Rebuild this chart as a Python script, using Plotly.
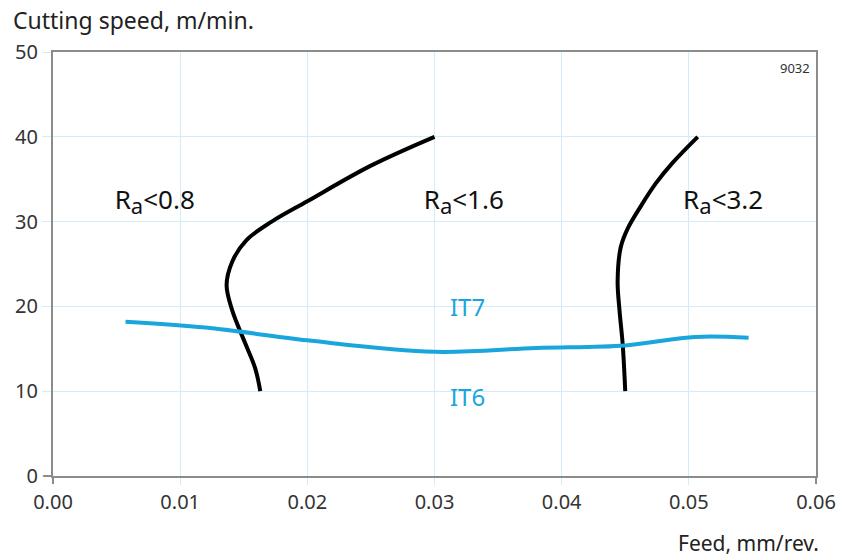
import plotly.graph_objects as go

# Ra < 0.8 / Ra < 1.6 boundary
ra08_x = [0.0300, 0.0250, 0.0200, 0.0172, 0.0152, 0.0141, 0.01365, 0.0141, 0.0151, 0.0159, 0.0163]
ra08_y = [40.0, 36.6, 32.4, 30.0, 27.8, 25.3, 22.5, 19.5, 15.7, 12.7, 10.0]

# Ra < 1.6 / Ra < 3.2 boundary
ra32_x = [0.0507, 0.0487, 0.0474, 0.0463, 0.0452, 0.04465, 0.0444, 0.04455, 0.0448, 0.0450]
ra32_y = [40.0, 36.9, 34.5, 32.0, 29.2, 27.0, 23.0, 19.5, 15.5, 10.0]

# IT7 / IT6 boundary
it_x = [0.0057, 0.0120, 0.0200, 0.0300, 0.0380, 0.0450, 0.0505, 0.0547]
it_y = [18.2, 17.5, 16.0, 14.65, 15.1, 15.4, 16.4, 16.3]

x_ticks = [0.00, 0.01, 0.02, 0.03, 0.04, 0.05, 0.06]
x_tick_text = ["0.00", "0.01", "0.02", "0.03", "0.04", "0.05", "0.06"]
y_ticks = [0, 10, 20, 30, 40, 50]

SUB_A = "<sub><span style='font-size:22px'>a</span></sub>"
labels_text = ["R" + SUB_A + "<0.8", "R" + SUB_A + "<1.6", "R" + SUB_A + "<3.2"]
labels_x = [0.0080, 0.0323, 0.0527]
labels_y = [32.3, 32.3, 32.3]

it_text = ["IT7", "IT6"]
it_lx = [0.0326, 0.0326]
it_ly = [19.6, 9.0]

FONT = "Noto Sans"
BLUE = "#1aa6dc"
GRID = "#d4ecf7"
AXIS = "#8c8c8c"
LINE_SHAPE = dict(shape="spline", smoothing=1.0)

fig = go.Figure()
fig.add_trace(go.Scatter(x=ra08_x, y=ra08_y, mode="lines",
                         line=dict(color="black", width=4, **LINE_SHAPE),
                         hoverinfo="skip", showlegend=False))
fig.add_trace(go.Scatter(x=ra32_x, y=ra32_y, mode="lines",
                         line=dict(color="black", width=4, **LINE_SHAPE),
                         hoverinfo="skip", showlegend=False))
fig.add_trace(go.Scatter(x=it_x, y=it_y, mode="lines",
                         line=dict(color=BLUE, width=4, **LINE_SHAPE),
                         hoverinfo="skip", showlegend=False))
fig.add_trace(go.Scatter(x=labels_x, y=labels_y, mode="text", text=labels_text,
                         textfont=dict(family=FONT, size=26, color="#111111"),
                         hoverinfo="skip", showlegend=False))
fig.add_trace(go.Scatter(x=it_lx, y=it_ly, mode="text", text=it_text,
                         textfont=dict(family=FONT, size=24, color=BLUE),
                         hoverinfo="skip", showlegend=False))

fig.update_xaxes(range=[0, 0.06], tickvals=x_ticks, ticktext=x_tick_text,
                 showgrid=True, gridcolor=GRID, gridwidth=1,
                 showline=True, linecolor=AXIS, linewidth=2, mirror=True,
                 ticks="outside", ticklen=7, tickcolor=GRID, tickwidth=1,
                 tickfont=dict(family=FONT, size=20, color="#333333"),
                 zeroline=False, fixedrange=True)
fig.update_yaxes(range=[0, 50], tickvals=y_ticks,
                 showgrid=True, gridcolor=GRID, gridwidth=1,
                 showline=True, linecolor=AXIS, linewidth=2, mirror=True,
                 ticks="outside", ticklen=9, tickcolor=GRID, tickwidth=1,
                 tickfont=dict(family=FONT, size=20, color="#333333"),
                 zeroline=False, fixedrange=True)

fig.update_layout(
    width=848, height=560,
    margin=dict(l=53, r=20, t=52, b=84),
    plot_bgcolor="white", paper_bgcolor="white",
    font=dict(family=FONT),
    annotations=[
        dict(text="Cutting speed, m/min.", xref="paper", yref="paper",
             x=-43/775, y=1 + 32/424, xanchor="left", yanchor="middle",
             showarrow=False, font=dict(family=FONT, size=23, color="#222222")),
        dict(text="Feed, mm/rev.", xref="paper", yref="paper",
             x=1 + 5/775, y=-67/424, xanchor="right", yanchor="middle",
             showarrow=False, font=dict(family=FONT, size=21, color="#222222")),
        dict(text="9032", xref="paper", yref="paper",
             x=1 - 4/775, y=1 - 16/424, xanchor="right", yanchor="middle",
             showarrow=False, font=dict(family=FONT, size=13, color="#333333")),
    ],
    shapes=[
        dict(type="line", xref="paper", yref="paper", x0=-10/775, x1=0, y0=0, y1=0,
             line=dict(color=AXIS, width=2)),
        dict(type="line", xref="paper", yref="paper", x0=0, x1=0, y0=-8/424, y1=0,
             line=dict(color=AXIS, width=2)),
        dict(type="line", xref="paper", yref="paper", x0=1, x1=1, y0=-8/424, y1=0,
             line=dict(color=AXIS, width=2)),
    ],
)

fig.write_html("out.html", config={"displayModeBar": False, "staticPlot": True},
               post_script="document.body.style.margin='0';document.body.style.overflow='hidden';")
